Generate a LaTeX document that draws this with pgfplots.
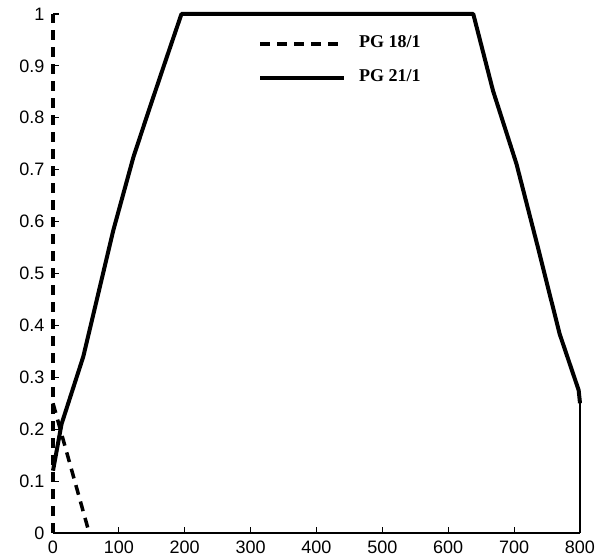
\documentclass[border=0pt]{standalone}
\usepackage{fontspec}
\setmainfont{Liberation Sans}
\newfontfamily\legfont{Liberation Serif}
\usepackage{pgfplots}
\pgfplotsset{compat=1.18}
\begin{document}
\begin{tikzpicture}
\begin{axis}[
  at={(0,0)}, anchor=south west,
  scale only axis, width=527bp, height=519bp,
  xmin=0, xmax=800, ymin=0, ymax=1,
  axis x line=bottom, axis y line=left,
  x axis line style={-, line width=1.5bp},
  y axis line style={draw=none},
  xtick={0,100,...,800},
  ytick={0,0.1,0.2,0.3,0.4,0.5,0.6,0.7,0.8,0.9,1},
  yticklabels={0,0.1,0.2,0.3,0.4,0.5,0.6,0.7,0.8,0.9,1},
  tick align=inside, major tick length=6bp,
  every tick/.style={black, line width=1.2bp},
  /pgf/number format/assume math mode=true,
  tick label style={font=\fontsize{18bp}{18bp}\selectfont},
  yticklabel style={xshift=-5bp},
  xticklabel style={yshift=-4bp},
  clip=false,
  legend style={at={(axis cs:311,0.958)}, anchor=north west, draw=none, fill=none,
    inner sep=0pt, row sep=18bp,
    font=\legfont\bfseries\fontsize{18bp}{18bp}\selectfont,
    nodes={inner sep=0pt, text height=12bp, text depth=4bp},
    /tikz/every odd column/.append style={column sep=13bp}},
  legend cell align=left,
  legend image code/.code={\draw[#1] (0bp,0bp) -- (84bp,0bp);},
]
\addplot[black, line width=3.5bp, dash pattern=on 10bp off 7bp] coordinates {(0,0) (0,1)};
\addlegendentry{PG 18/1}
\addplot[black, line width=4bp, line join=round] coordinates {
(0,0.12) (13,0.21) (46,0.34) (61,0.42) (91.5,0.583) (122,0.724) (147,0.82) (172.5,0.916) (195,1)
(638,1) (668,0.852) (703.6,0.711) (736,0.551) (769,0.384) (798,0.275) (800,0.25)};
\addlegendentry{PG 21/1}
\addplot[black, line width=2.5bp, forget plot] coordinates {(800,0.26) (800,0)};
\addplot[black, line width=3.5bp, dash pattern=on 10bp off 7bp, forget plot] coordinates {(0,0.25) (55,0)};
\end{axis}
\pgfresetboundingbox
\path[use as bounding box] (-53bp,-27bp) rectangle (555bp,533bp);
\end{tikzpicture}
\end{document}
